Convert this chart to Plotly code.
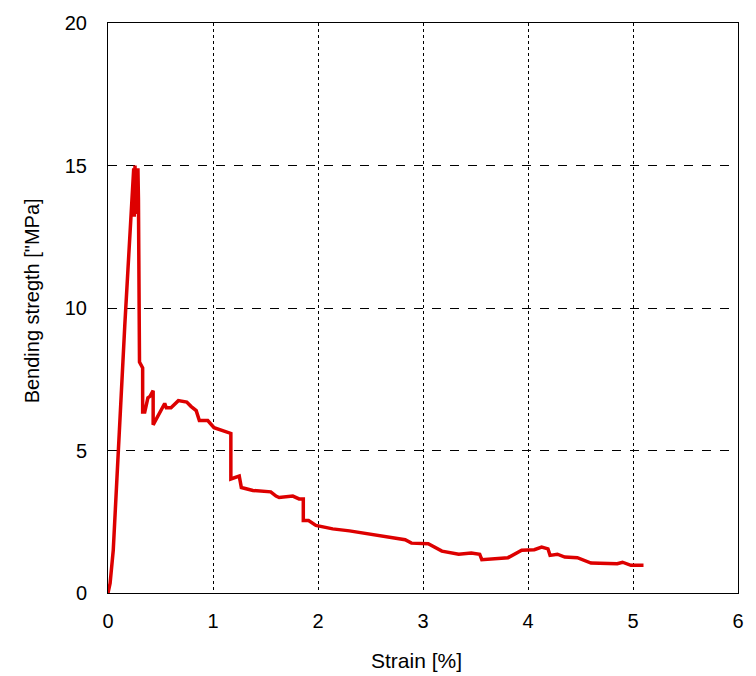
import plotly.graph_objects as go

strain = [0, 0.02, 0.05, 0.08, 0.10, 0.13, 0.16, 0.19, 0.225, 0.235, 0.245, 0.25, 0.257, 0.265, 0.272, 0.278,
          0.285, 0.29, 0.293, 0.297, 0.30, 0.33, 0.33, 0.35, 0.38, 0.40, 0.43, 0.43, 0.48, 0.54, 0.555,
          0.60, 0.67, 0.75, 0.79, 0.84, 0.87, 0.95, 1.01, 1.09, 1.17, 1.17, 1.25, 1.27, 1.38, 1.55,
          1.60, 1.63, 1.76, 1.82, 1.86, 1.86, 1.91, 1.98, 2.14, 2.30, 2.45, 2.58, 2.67, 2.83, 2.89,
          3.05, 3.18, 3.34, 3.46, 3.54, 3.56, 3.81, 3.94, 4.06, 4.13, 4.19, 4.21, 4.28, 4.35, 4.47,
          4.60, 4.85, 4.90, 4.98, 5.10]
stress = [0, 0.34, 1.5, 3.8, 5.0, 7.3, 9.4, 11.35, 13.4, 14.0, 14.9, 13.2, 15.0, 13.3, 14.9, 13.5,
          14.9, 13.8, 11.4, 11.2, 8.1, 7.9, 6.35, 6.35, 6.85, 6.9, 7.1, 5.9, 6.25, 6.65, 6.5,
          6.5, 6.75, 6.7, 6.55, 6.4, 6.05, 6.05, 5.8, 5.7, 5.6, 4.0, 4.1, 3.7, 3.6, 3.55,
          3.4, 3.35, 3.4, 3.3, 3.3, 2.54, 2.54, 2.37, 2.25, 2.18, 2.1, 2.02, 1.96, 1.87, 1.75,
          1.73, 1.47, 1.36, 1.4, 1.36, 1.17, 1.24, 1.5, 1.52, 1.61, 1.55, 1.32, 1.36, 1.26, 1.24,
          1.05, 1.03, 1.08, 0.97, 0.97]

x_ticks = [0, 1, 2, 3, 4, 5, 6]
y_ticks = [0, 5, 10, 15, 20]

FONT = "Liberation Sans, Arial, sans-serif"

fig = go.Figure()
fig.add_trace(go.Scatter(x=strain, y=stress, mode="lines",
                         line=dict(color="#dd0000", width=3.5), showlegend=False))

axis_common = dict(showgrid=True, gridcolor="black", gridwidth=1,
                   showline=True, linecolor="black", linewidth=1, mirror=True,
                   zeroline=False, ticks="", tickfont=dict(family=FONT, size=20, color="black"))

fig.update_xaxes(range=[0, 6], tickvals=x_ticks, griddash="dot", ticklabelstandoff=10, **axis_common)
fig.update_yaxes(range=[0, 20], tickvals=y_ticks, griddash="dash", ticklabelstandoff=16, **axis_common)

fig.update_layout(
    width=756, height=676,
    margin=dict(l=108, r=15, t=19, b=83),
    plot_bgcolor="white", paper_bgcolor="white",
    font=dict(family=FONT, size=20, color="black"),
    annotations=[
        dict(text="Strain [%]", xref="paper", yref="paper", x=0.49, y=-0.118,
             xanchor="center", yanchor="middle", showarrow=False,
             font=dict(family=FONT, size=21, color="black")),
        dict(text="Bending stregth [\"MPa]", xref="paper", yref="paper", x=-0.121, y=0.513,
             xanchor="center", yanchor="middle", textangle=-90, showarrow=False,
             font=dict(family=FONT, size=20, color="black")),
    ],
)

fig.write_html("out.html")
